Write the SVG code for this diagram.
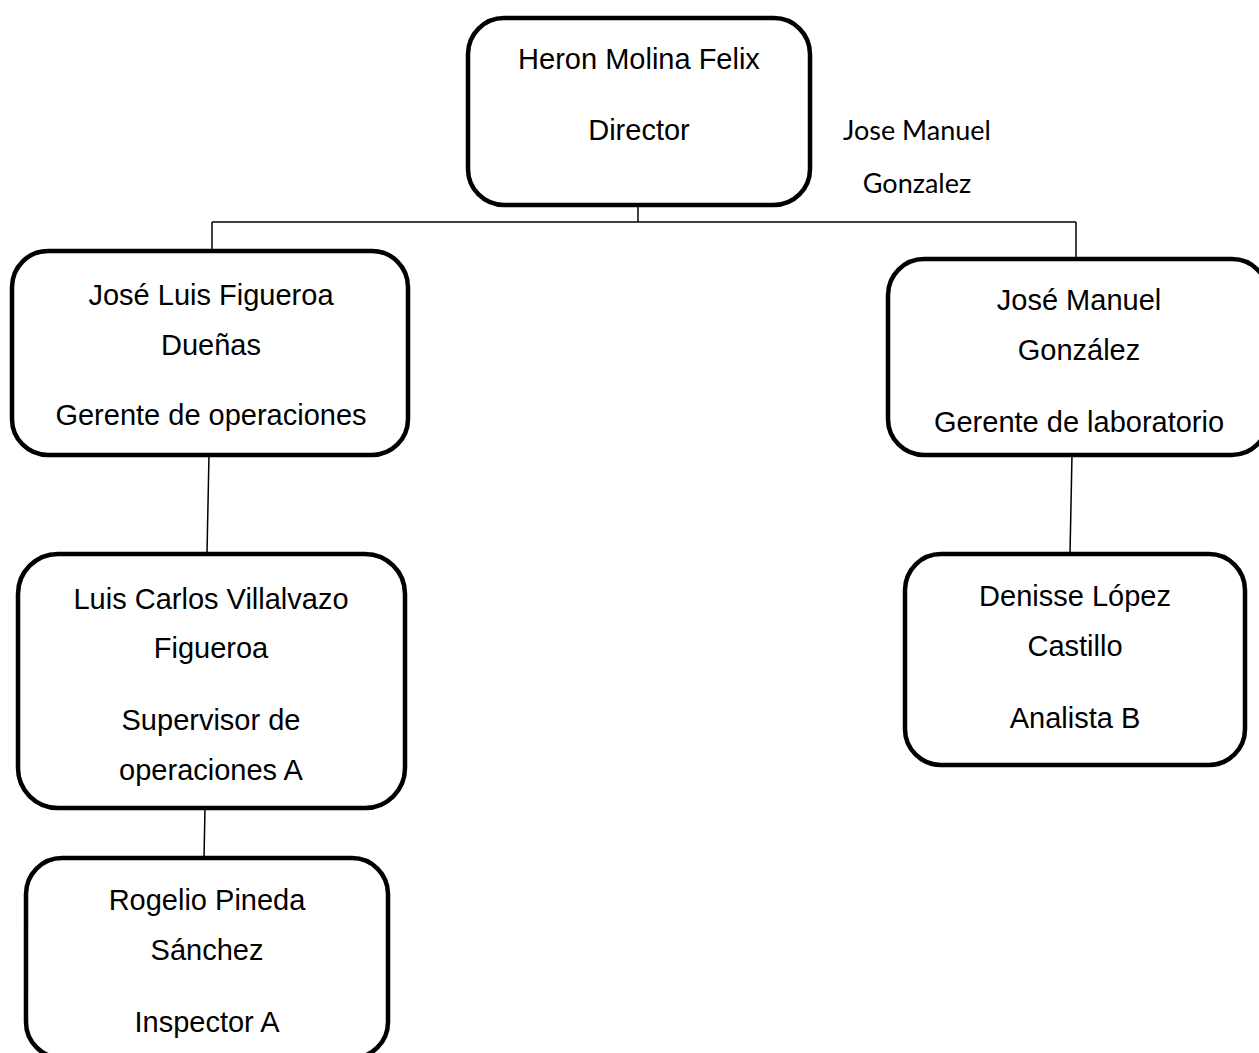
<svg xmlns="http://www.w3.org/2000/svg" width="1259" height="1053" viewBox="0 0 1259 1053">
<style>
.box{fill:#fff;stroke:#000;stroke-width:4.5}
.t{font-family:"Liberation Sans",Arial,sans-serif;font-size:29px;fill:#000;text-anchor:middle}
.c{font-family:Lato,"Liberation Sans",sans-serif;font-size:27px;fill:#000;text-anchor:middle}
.ln{stroke:#000;stroke-width:1.5;fill:none}
</style>
<rect width="1259" height="1053" fill="#fff"/>
<g id="connectors">
<line class="ln" x1="638" y1="205" x2="638" y2="222"/>
<line class="ln" x1="212" y1="222" x2="1076" y2="222"/>
<line class="ln" x1="212" y1="222" x2="212" y2="251"/>
<line class="ln" x1="1076" y1="222" x2="1076" y2="259"/>
<line class="ln" x1="209" y1="455" x2="207" y2="553"/>
<line class="ln" x1="1072" y1="455" x2="1070" y2="554"/>
<line class="ln" x1="205" y1="808" x2="204" y2="858"/>
</g>
<g id="director">
<rect class="box" x="468" y="18" width="342" height="187" rx="36"/>
<text class="t" x="639" y="69">Heron Molina Felix</text>
<text class="t" x="639" y="140">Director</text>
</g>
<g id="note">
<text class="c" x="917" y="140">Jose Manuel</text>
<text class="c" x="917" y="193">Gonzalez</text>
</g>
<g id="gerente-operaciones">
<rect class="box" x="12" y="251" width="396" height="204" rx="36"/>
<text class="t" x="211" y="305">José Luis Figueroa</text>
<text class="t" x="211" y="355">Dueñas</text>
<text class="t" x="211" y="425">Gerente de operaciones</text>
</g>
<g id="supervisor">
<rect class="box" x="18" y="554" width="387" height="254" rx="40"/>
<text class="t" x="211" y="609">Luis Carlos Villalvazo</text>
<text class="t" x="211" y="658">Figueroa</text>
<text class="t" x="211" y="730">Supervisor de</text>
<text class="t" x="211" y="780">operaciones A</text>
</g>
<g id="inspector">
<rect class="box" x="26" y="858" width="362" height="200" rx="36"/>
<text class="t" x="207" y="910">Rogelio Pineda</text>
<text class="t" x="207" y="960">Sánchez</text>
<text class="t" x="207" y="1032">Inspector A</text>
</g>
<g id="gerente-laboratorio">
<rect class="box" x="888" y="259" width="380" height="196" rx="36"/>
<text class="t" x="1079" y="310">José Manuel</text>
<text class="t" x="1079" y="360">González</text>
<text class="t" x="1079" y="432">Gerente de laboratorio</text>
</g>
<g id="analista">
<rect class="box" x="905" y="554" width="340" height="211" rx="36"/>
<text class="t" x="1075" y="606">Denisse López</text>
<text class="t" x="1075" y="656">Castillo</text>
<text class="t" x="1075" y="728">Analista B</text>
</g>
</svg>
